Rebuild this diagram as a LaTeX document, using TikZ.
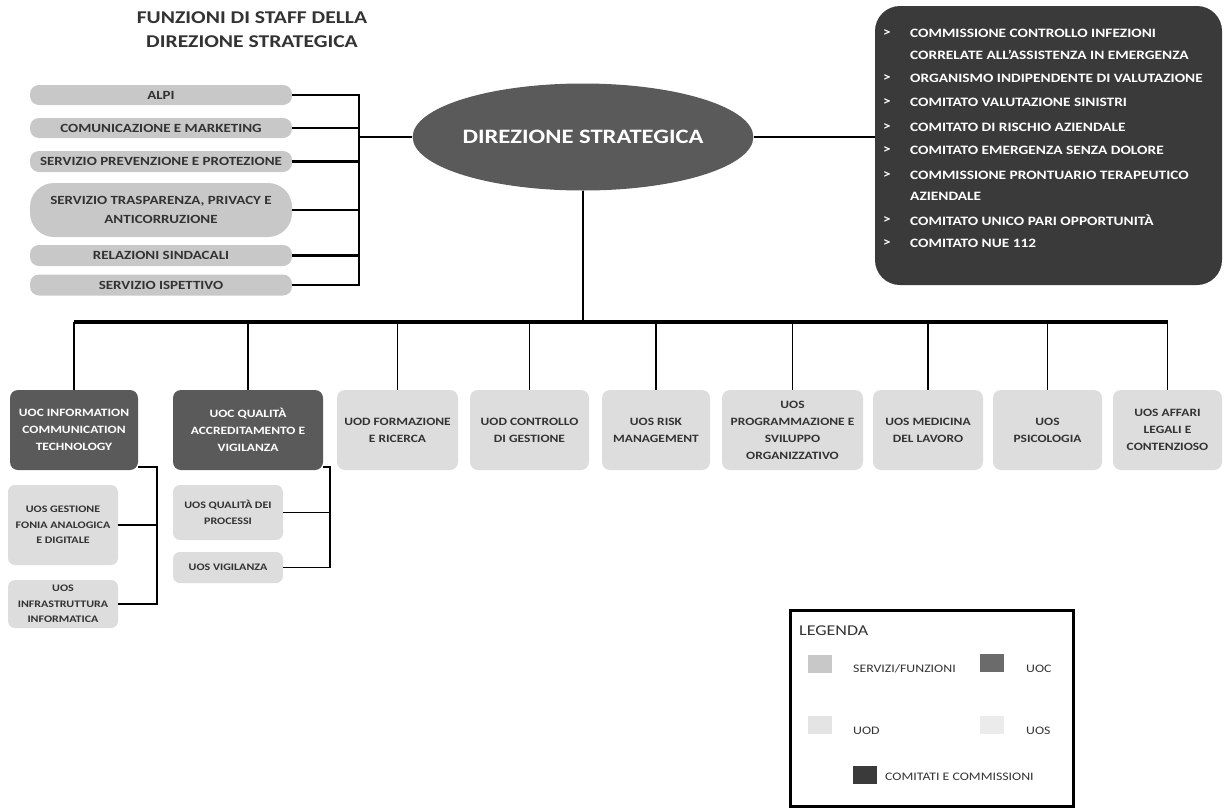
\documentclass[tikz,border=0pt]{standalone}
\usepackage{fontspec}
\setmainfont{Carlito}[FakeStretch=1.2]
\usetikzlibrary{shapes.geometric}
\definecolor{staffgray}{HTML}{C8C8C8}
\definecolor{lightbox}{HTML}{DDDDDD}
\definecolor{darkbox}{HTML}{5A5A5A}
\definecolor{comgray}{HTML}{3A3A3A}
\definecolor{txtgray}{HTML}{333333}
\tikzset{
  staff/.style={draw=none,fill=staffgray,rounded corners=9pt,minimum width=262pt,inner sep=0pt,align=center,text=txtgray,font=\fontsize{12.5}{14}\selectfont\bfseries},
  uoc/.style={draw=none,fill=darkbox,rounded corners=8pt,minimum height=80pt,inner sep=0pt,align=center,text=white,font=\fontsize{11.2}{17}\selectfont\bfseries},
  unit/.style={draw=none,fill=lightbox,rounded corners=8pt,minimum height=80pt,inner sep=0pt,align=center,text=txtgray,font=\fontsize{11.2}{17}\selectfont\bfseries},
  sub/.style={draw=none,fill=lightbox,rounded corners=7pt,minimum width=110pt,inner sep=0pt,align=center,text=txtgray,font=\fontsize{10}{15.5}\selectfont\bfseries},
  conn/.style={draw=black,line width=2.4pt},
  drop/.style={draw=black,line width=1.8pt},
  subconn/.style={draw=black,line width=1.3pt},
  comtxt/.style={anchor=west,inner sep=0pt,text=white,font=\fontsize{12.8}{14}\selectfont\bfseries},
  legtxt/.style={anchor=west,inner sep=0pt,text=txtgray,font=\fontsize{11.5}{13}\selectfont},
  swatch/.style={draw=none,minimum width=24pt,minimum height=18pt,inner sep=0pt},
}
\begin{document}
\begin{tikzpicture}[x=1pt,y=-1pt]
\useasboundingbox[fill=white] (0,0) rectangle (1226,809);

% title
\node[align=center,text=txtgray,font=\fontsize{18}{24}\selectfont\bfseries] (title) at (252,30) {FUNZIONI DI STAFF DELLA\\DIREZIONE STRATEGICA};

% staff boxes
\node[staff,minimum height=20pt] (alpi) at (161,95) {ALPI};
\node[staff,minimum height=20pt] (com) at (161,128) {COMUNICAZIONE E MARKETING};
\node[staff,minimum height=21pt] (prev) at (161,161.5) {SERVIZIO PREVENZIONE E PROTEZIONE};
\node[staff,minimum height=54pt,rounded corners=24pt,font=\fontsize{12.5}{19}\selectfont\bfseries] (trasp) at (161,210) {SERVIZIO TRASPARENZA, PRIVACY E\\ANTICORRUZIONE};
\node[staff,minimum height=21pt] (rel) at (161,255.5) {RELAZIONI SINDACALI};
\node[staff,minimum height=21pt] (isp) at (161,285) {SERVIZIO ISPETTIVO};

% direzione strategica
\node[ellipse,fill=darkbox,minimum width=337pt,minimum height=107pt,inner sep=0pt,text=white,font=\fontsize{20.5}{22}\selectfont\bfseries] (ds) at (583,137) {DIREZIONE STRATEGICA};

% staff connectors
\coordinate (bt) at (359,95);
\coordinate (bb) at (359,285);
\coordinate (bm) at (359,137);
\draw[conn] (alpi.east) -- (alpi.east -| bt);
\draw[conn] (com.east) -- (com.east -| bt);
\draw[conn] (prev.east) -- (prev.east -| bt);
\draw[conn] (trasp.east) -- (trasp.east -| bt);
\draw[conn] (rel.east) -- (rel.east -| bt);
\draw[conn] (isp.east) -- (isp.east -| bt);
\draw[conn,line cap=rect] (bt) -- (bb);
\draw[conn] (bm) -- (ds.west);

% commissions box
\node[fill=comgray,rounded corners=25pt,minimum width=347pt,minimum height=279pt,inner sep=0pt] (rb) at (1048.5,145.5) {};
\draw[conn] (ds.east) -- (ds.east -| rb.west);
\foreach \n/\y/\t/\b in {r1/33/COMMISSIONE CONTROLLO INFEZIONI/1,
  r2/55/CORRELATE ALL’ASSISTENZA IN EMERGENZA/0,
  r3/78/ORGANISMO INDIPENDENTE DI VALUTAZIONE/1,
  r4/102/COMITATO VALUTAZIONE SINISTRI/1,
  r5/127/COMITATO DI RISCHIO AZIENDALE/1,
  r6/150/COMITATO EMERGENZA SENZA DOLORE/1,
  r7/175/COMMISSIONE PRONTUARIO TERAPEUTICO/1,
  r8/196/AZIENDALE/0,
  r9/220/COMITATO UNICO PARI OPPORTUNITÀ/1,
  r10/243/COMITATO NUE 112/1}{
  \node[comtxt] (\n) at (910,\y) {\t};
  \ifnum\b=1 \node[comtxt] (\n b) at (883,\y) {>};\fi
}

% main bus
\coordinate (bus) at (583,322);
\draw[drop] (ds.south) -- (bus);

% bottom row
\node[uoc,minimum width=128pt] (uocit) at (74,430) {UOC INFORMATION\\COMMUNICATION\\TECHNOLOGY};
\node[uoc,minimum width=150pt] (uocq) at (248,430) {UOC QUALITÀ\\ACCREDITAMENTO E\\VIGILANZA};
\node[unit,minimum width=121pt] (uodf) at (397.5,430) {UOD FORMAZIONE\\E RICERCA};
\node[unit,minimum width=119pt] (uodc) at (529.5,430) {UOD CONTROLLO\\DI GESTIONE};
\node[unit,minimum width=108pt] (uosr) at (656,430) {UOS RISK\\MANAGEMENT};
\node[unit,minimum width=141pt] (uosp) at (792.5,430) {UOS\\PROGRAMMAZIONE E\\SVILUPPO\\ORGANIZZATIVO};
\node[unit,minimum width=110pt] (uosm) at (928,430) {UOS MEDICINA\\DEL LAVORO};
\node[unit,minimum width=109pt] (uosps) at (1047.5,430) {UOS\\PSICOLOGIA};
\node[unit,minimum width=109pt] (uosa) at (1167.5,430) {UOS AFFARI\\LEGALI E\\CONTENZIOSO};

\draw[line width=3.5pt] (uocit.north |- bus) -- (uosa.north |- bus);
\foreach \b in {uocit,uocq,uodf,uodc,uosr,uosp,uosm,uosps,uosa}{
  \draw[drop] (\b.north |- bus) -- (\b.north);
}

% sub units
\node[sub,minimum height=80pt] (uosg) at (63,525) {UOS GESTIONE\\FONIA ANALOGICA\\E DIGITALE};
\node[sub,minimum height=48pt] (uosi) at (63,604) {UOS\\INFRASTRUTTURA\\INFORMATICA};
\node[sub,minimum height=55pt] (uosqp) at (228,512.5) {UOS QUALITÀ DEI\\PROCESSI};
\node[sub,minimum height=31pt] (uosv) at (228,567.5) {UOS VIGILANZA};

\coordinate (itc) at (157,467);
\draw[subconn] (uocit.east |- itc) -- (itc) -- (itc |- uosi.east) -- (uosi.east);
\draw[subconn] (uosg.east) -- (uosg.east -| itc);
\coordinate (qc) at (330,467);
\draw[subconn] (uocq.east |- qc) -- (qc) -- (qc |- uosv.east) -- (uosv.east);
\draw[subconn] (uosqp.east) -- (uosqp.east -| qc);

% legend
\node[draw=black,line width=3pt,minimum width=283pt,minimum height=196pt,inner sep=0pt] (leg) at (931.5,708) {};
\node[anchor=west,inner sep=0pt,text=txtgray,font=\fontsize{15}{17}\selectfont] (legt) at (799,631) {LEGENDA};
\node[swatch,fill=staffgray] (s1) at (820,664) {};
\node[legtxt] (l1) at (853,669) {SERVIZI/FUNZIONI};
\node[swatch,fill=darkbox!90] (s2) at (992,663) {};
\node[legtxt] (l2) at (1026,669) {UOC};
\node[swatch,fill=lightbox!80] (s3) at (820,725) {};
\node[legtxt] (l3) at (853,731) {UOD};
\node[swatch,fill=lightbox!60] (s4) at (992,725) {};
\node[legtxt] (l4) at (1026,731) {UOS};
\node[swatch,fill=comgray] (s5) at (865,775) {};
\node[legtxt] (l5) at (885,777) {COMITATI E COMMISSIONI};
\end{tikzpicture}
\end{document}
